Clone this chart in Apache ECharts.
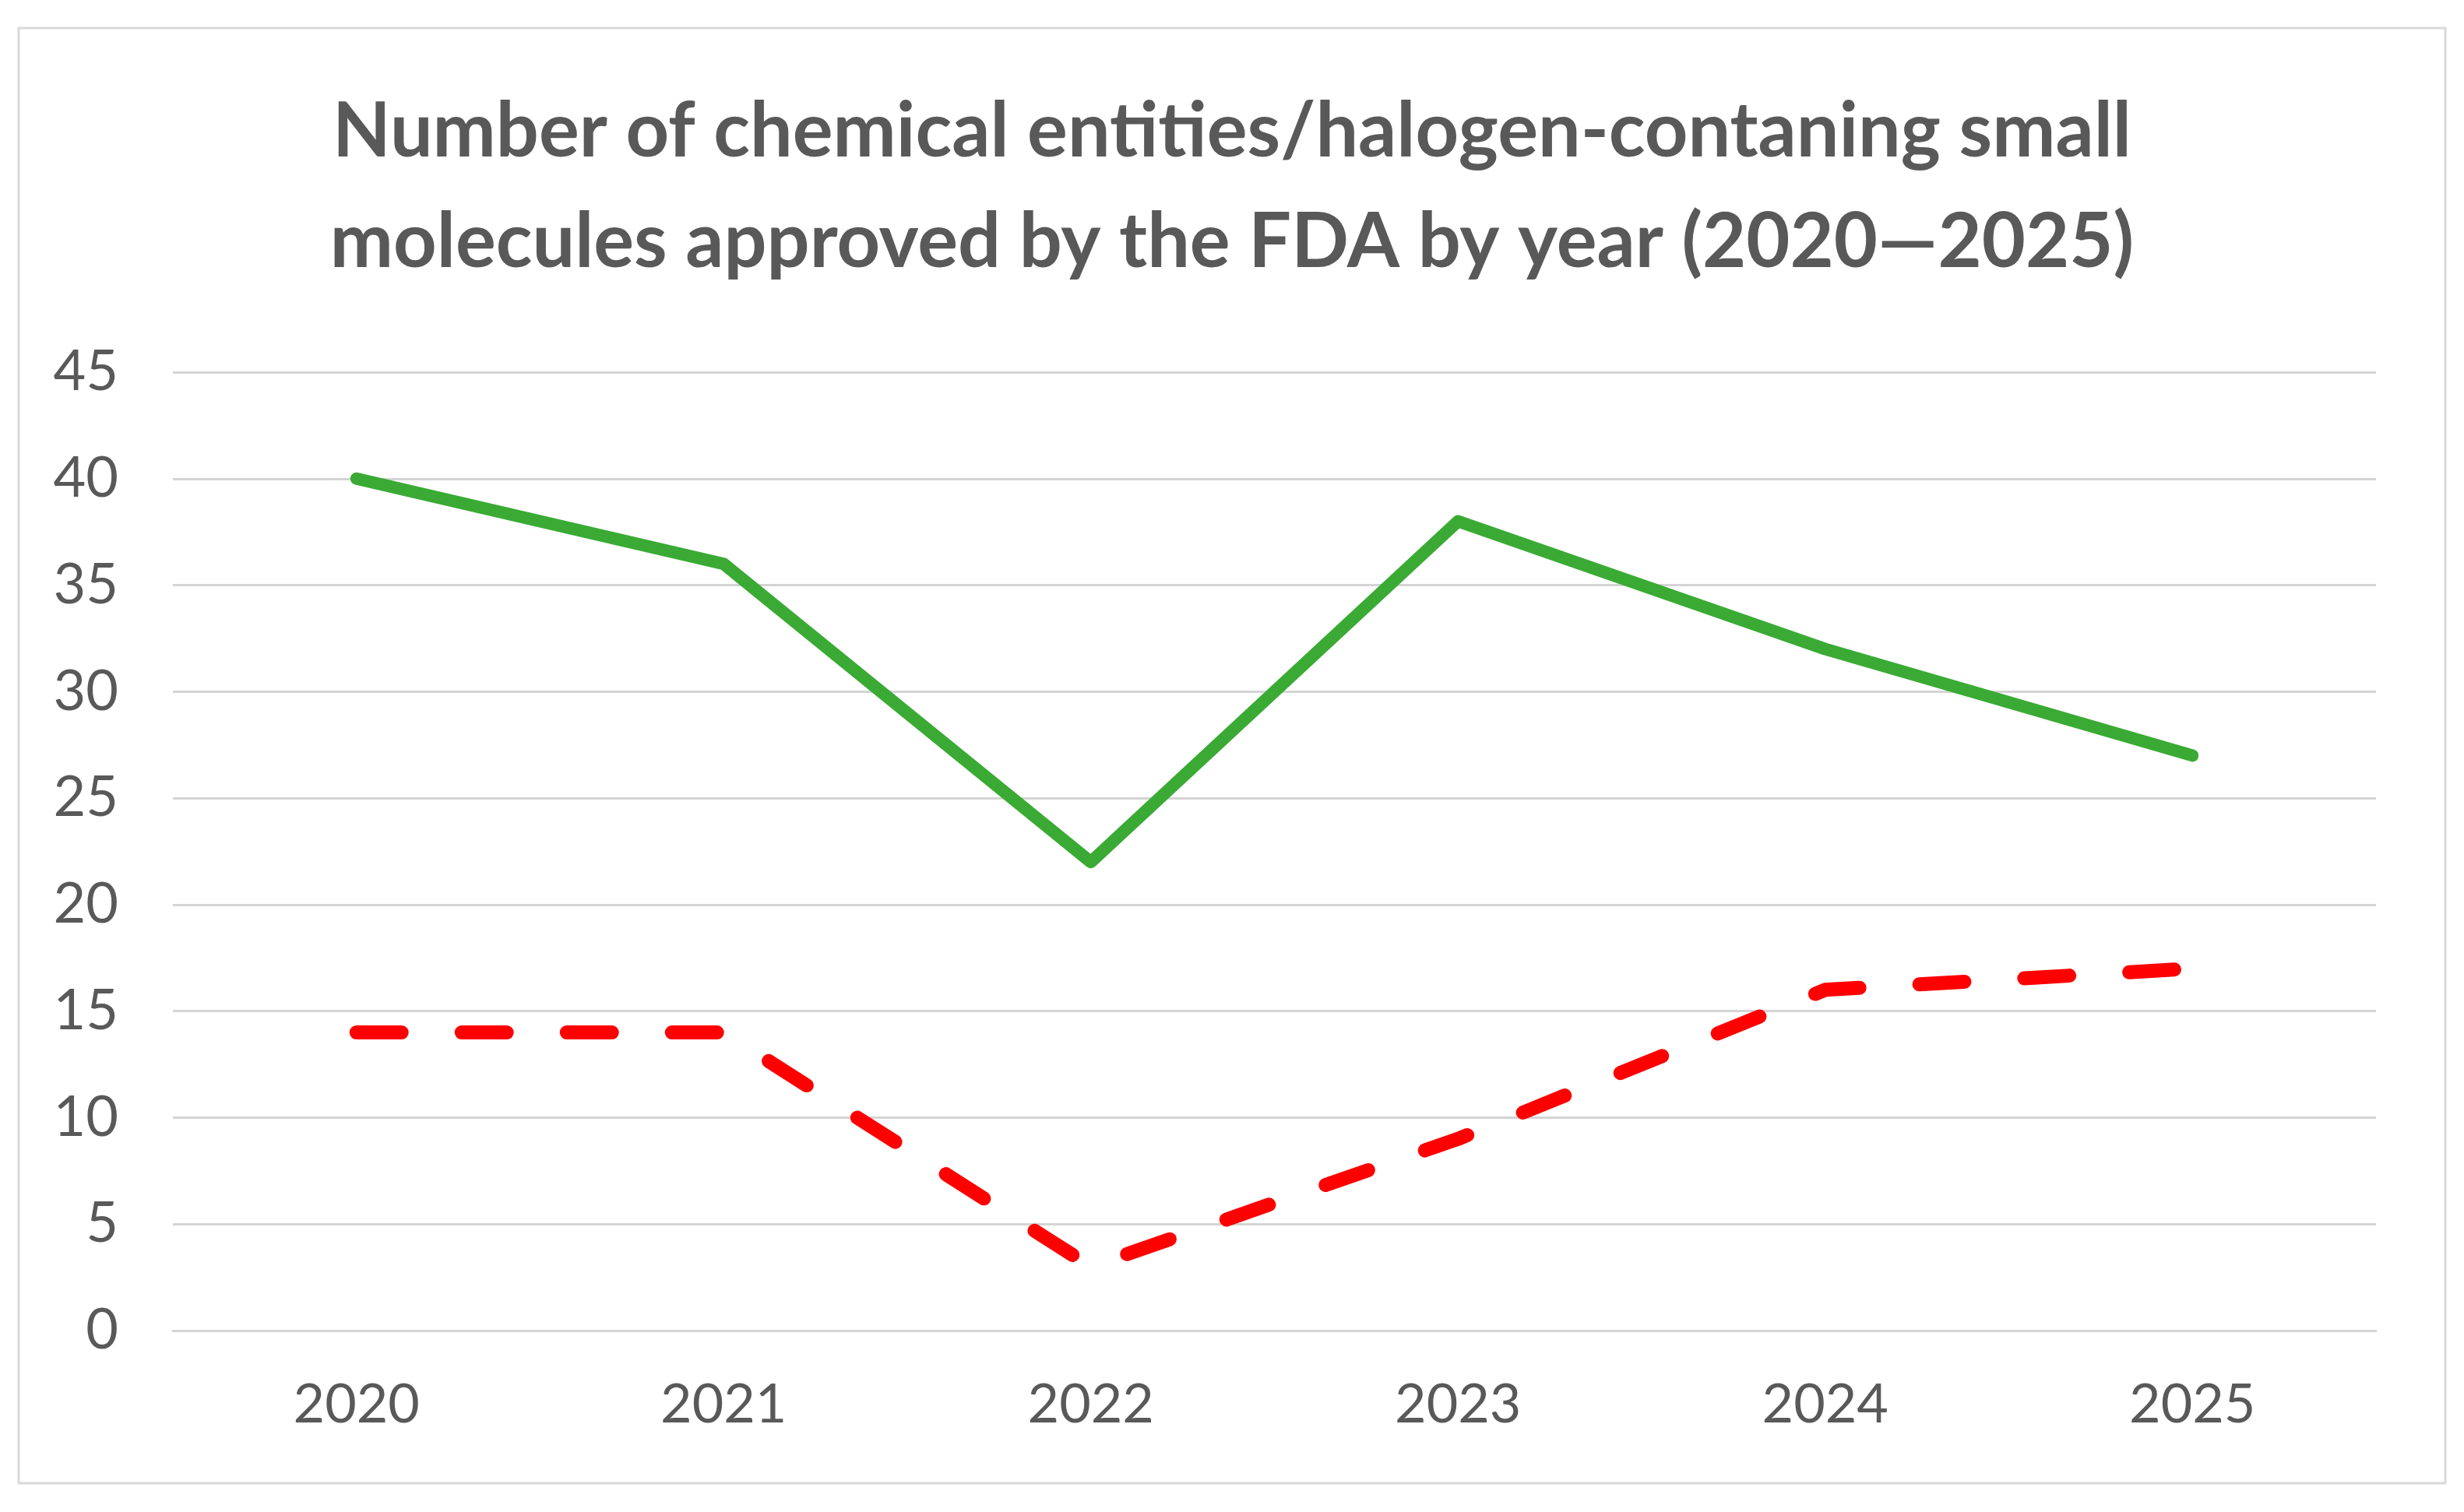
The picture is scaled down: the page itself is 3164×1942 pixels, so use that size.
<!DOCTYPE html>
<html><head><meta charset="utf-8">
<script src="https://cdn.jsdelivr.net/npm/echarts@6/dist/echarts.min.js"></script>
<style>html,body{margin:0;padding:0;background:#fff}#c{width:3164px;height:1942px}</style>
</head><body><div id="c"></div>
<script>
const categories = ['2020','2021','2022','2023','2024','2025'];
const chemicalEntities = [40, 36, 22, 38, 32, 27];
const halogenContaining = [14, 14, 3, 9, 16, 17];
const yTicks = {min: 0, max: 45, interval: 5};
const titleText = 'Number of chemical entities/halogen-contaning small\nmolecules approved by the FDA by year (2020\u20142025)';

const chart = echarts.init(document.getElementById('c'));
chart.setOption({
  backgroundColor: '#fff',
  animation: false,
  title: {
    text: titleText, left: 'center', top: 94,
    textStyle: {fontFamily: 'Lato', fontWeight: 'bold', fontSize: 97, lineHeight: 142, color: '#595959'}
  },
  graphic: [{type: 'rect', shape: {x: 24, y: 36, width: 3116, height: 1869},
    style: {fill: 'none', stroke: '#d9d9d9', lineWidth: 3}, z: -1}],
  grid: {left: 222, right: 113, top: 478, bottom: 233},
  xAxis: {
    type: 'category', data: categories, boundaryGap: true,
    axisLine: {lineStyle: {color: '#d4d4d4', width: 3}},
    axisTick: {show: false},
    axisLabel: {fontFamily: 'Lato', fontSize: 70, color: '#595959', margin: 60}
  },
  yAxis: {
    type: 'value', min: yTicks.min, max: yTicks.max, interval: yTicks.interval,
    axisLine: {show: false}, axisTick: {show: false},
    axisLabel: {fontFamily: 'Lato', fontSize: 72, color: '#595959', margin: 70},
    splitLine: {lineStyle: {color: '#d4d4d4', width: 3}}
  },
  series: [
    {type: 'line', data: chemicalEntities, symbol: 'none',
     lineStyle: {color: '#3aaa35', width: 16, cap: 'round', join: 'round'}},
    {type: 'line', data: halogenContaining, symbol: 'none',
     lineStyle: {color: '#ff0000', width: 18, type: [58, 77], cap: 'round', join: 'round'}}
  ]
});
</script></body></html>
